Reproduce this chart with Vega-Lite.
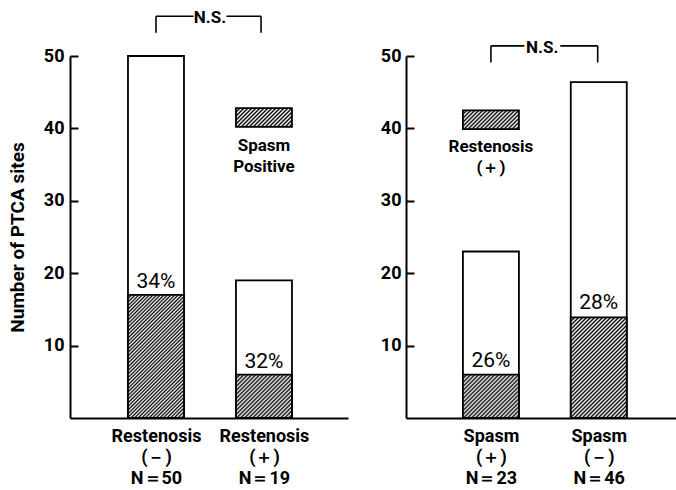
{
 "$schema": "https://vega.github.io/schema/vega-lite/v6.json",
 "padding": {"left": 8, "top": 9, "right": 0, "bottom": 0},
 "background": "#ffffff",
 "spacing": 32,
 "config": {
  "font": "Roboto, 'Liberation Sans', sans-serif",
  "view": {"stroke": null},
  "axis": {"domainColor": "#000", "domainWidth": 2, "tickColor": "#000", "tickWidth": 2, "labelColor": "#000", "titleColor": "#000", "grid": false, "labelFontWeight": "bold", "titleFontWeight": "bold"},
  "text": {"color": "#000"}
 },
 "hconcat": [
  {
   "width": 278, "height": 362,
   "data": {"values": [{"pos": 1, "total": 50, "spasm": 17, "pct": "34%"}, {"pos": 2, "total": 19, "spasm": 6, "pct": "32%"}]},
   "layer": [
    {"mark": {"type": "bar", "width": 56, "fill": "#fff", "stroke": "#000", "strokeWidth": 1.8},
     "encoding": {
      "x": {"field": "pos", "type": "quantitative", "scale": {"domain": [0.25, 2.732], "nice": false, "zero": false},
            "axis": {"title": null, "values": [1, 2], "ticks": false, "tickSize": 0, "labelPadding": 9, "labelFontSize": 18, "labelLineHeight": 21, "labelExpr": "datum.value == 1 ? ['Restenosis', '(－)', 'N＝50'] : ['Restenosis', '(＋)', 'N＝19']"}},
      "y": {"field": "total", "type": "quantitative", "scale": {"domain": [0, 50], "nice": false},
            "axis": {"title": "Number of PTCA sites", "values": [10, 20, 30, 40, 50], "tickSize": -8, "labelPadding": 14, "labelFontSize": 18, "titleFontSize": 19, "titlePadding": 16}}
     }},
    {"transform": [{"filter": "datum.pos == 1"}],
     "mark": {"type": "bar", "width": 56, "stroke": "#000", "strokeWidth": 1.8,
      "fill": {"gradient": "linear", "x1": 0, "y1": 0, "x2": 0.551, "y2": 1.2115, "stops": [{"offset":0,"color":"#000"},{"offset":0.01,"color":"#fff"},{"offset":0.02,"color":"#000"},{"offset":0.03,"color":"#fff"},{"offset":0.04,"color":"#000"},{"offset":0.05,"color":"#fff"},{"offset":0.06,"color":"#000"},{"offset":0.07,"color":"#fff"},{"offset":0.08,"color":"#000"},{"offset":0.09,"color":"#fff"},{"offset":0.1,"color":"#000"},{"offset":0.11,"color":"#fff"},{"offset":0.12,"color":"#000"},{"offset":0.13,"color":"#fff"},{"offset":0.14,"color":"#000"},{"offset":0.15,"color":"#fff"},{"offset":0.16,"color":"#000"},{"offset":0.17,"color":"#fff"},{"offset":0.18,"color":"#000"},{"offset":0.19,"color":"#fff"},{"offset":0.2,"color":"#000"},{"offset":0.21,"color":"#fff"},{"offset":0.22,"color":"#000"},{"offset":0.23,"color":"#fff"},{"offset":0.24,"color":"#000"},{"offset":0.25,"color":"#fff"},{"offset":0.26,"color":"#000"},{"offset":0.27,"color":"#fff"},{"offset":0.28,"color":"#000"},{"offset":0.29,"color":"#fff"},{"offset":0.3,"color":"#000"},{"offset":0.31,"color":"#fff"},{"offset":0.32,"color":"#000"},{"offset":0.33,"color":"#fff"},{"offset":0.34,"color":"#000"},{"offset":0.35,"color":"#fff"},{"offset":0.36,"color":"#000"},{"offset":0.37,"color":"#fff"},{"offset":0.38,"color":"#000"},{"offset":0.39,"color":"#fff"},{"offset":0.4,"color":"#000"},{"offset":0.41,"color":"#fff"},{"offset":0.42,"color":"#000"},{"offset":0.43,"color":"#fff"},{"offset":0.44,"color":"#000"},{"offset":0.45,"color":"#fff"},{"offset":0.46,"color":"#000"},{"offset":0.47,"color":"#fff"},{"offset":0.48,"color":"#000"},{"offset":0.49,"color":"#fff"},{"offset":0.5,"color":"#000"},{"offset":0.51,"color":"#fff"},{"offset":0.52,"color":"#000"},{"offset":0.53,"color":"#fff"},{"offset":0.54,"color":"#000"},{"offset":0.55,"color":"#fff"},{"offset":0.56,"color":"#000"},{"offset":0.57,"color":"#fff"},{"offset":0.58,"color":"#000"},{"offset":0.59,"color":"#fff"},{"offset":0.6,"color":"#000"},{"offset":0.61,"color":"#fff"},{"offset":0.62,"color":"#000"},{"offset":0.63,"color":"#fff"},{"offset":0.64,"color":"#000"},{"offset":0.65,"color":"#fff"},{"offset":0.66,"color":"#000"},{"offset":0.67,"color":"#fff"},{"offset":0.68,"color":"#000"},{"offset":0.69,"color":"#fff"},{"offset":0.7,"color":"#000"},{"offset":0.71,"color":"#fff"},{"offset":0.72,"color":"#000"},{"offset":0.73,"color":"#fff"},{"offset":0.74,"color":"#000"},{"offset":0.75,"color":"#fff"},{"offset":0.76,"color":"#000"},{"offset":0.77,"color":"#fff"},{"offset":0.78,"color":"#000"},{"offset":0.79,"color":"#fff"},{"offset":0.8,"color":"#000"},{"offset":0.81,"color":"#fff"},{"offset":0.82,"color":"#000"},{"offset":0.83,"color":"#fff"},{"offset":0.84,"color":"#000"},{"offset":0.85,"color":"#fff"},{"offset":0.86,"color":"#000"},{"offset":0.87,"color":"#fff"},{"offset":0.88,"color":"#000"},{"offset":0.89,"color":"#fff"},{"offset":0.9,"color":"#000"},{"offset":0.91,"color":"#fff"},{"offset":0.92,"color":"#000"},{"offset":0.93,"color":"#fff"},{"offset":0.94,"color":"#000"},{"offset":0.95,"color":"#fff"},{"offset":0.96,"color":"#000"},{"offset":0.97,"color":"#fff"},{"offset":0.98,"color":"#000"},{"offset":0.99,"color":"#fff"},{"offset":1,"color":"#000"}]}},
     "encoding": {"x": {"field": "pos", "type": "quantitative"}, "y": {"field": "spasm", "type": "quantitative"}}},
    {"transform": [{"filter": "datum.pos == 2"}],
     "mark": {"type": "bar", "width": 56, "stroke": "#000", "strokeWidth": 1.8,
      "fill": {"gradient": "linear", "x1": 0, "y1": 0, "x2": 1.1155, "y2": 0.8645, "stops": [{"offset":0,"color":"#000"},{"offset":0.02,"color":"#fff"},{"offset":0.04,"color":"#000"},{"offset":0.06,"color":"#fff"},{"offset":0.08,"color":"#000"},{"offset":0.1,"color":"#fff"},{"offset":0.12,"color":"#000"},{"offset":0.14,"color":"#fff"},{"offset":0.16,"color":"#000"},{"offset":0.18,"color":"#fff"},{"offset":0.2,"color":"#000"},{"offset":0.22,"color":"#fff"},{"offset":0.24,"color":"#000"},{"offset":0.26,"color":"#fff"},{"offset":0.28,"color":"#000"},{"offset":0.3,"color":"#fff"},{"offset":0.32,"color":"#000"},{"offset":0.34,"color":"#fff"},{"offset":0.36,"color":"#000"},{"offset":0.38,"color":"#fff"},{"offset":0.4,"color":"#000"},{"offset":0.42,"color":"#fff"},{"offset":0.44,"color":"#000"},{"offset":0.46,"color":"#fff"},{"offset":0.48,"color":"#000"},{"offset":0.5,"color":"#fff"},{"offset":0.52,"color":"#000"},{"offset":0.54,"color":"#fff"},{"offset":0.56,"color":"#000"},{"offset":0.58,"color":"#fff"},{"offset":0.6,"color":"#000"},{"offset":0.62,"color":"#fff"},{"offset":0.64,"color":"#000"},{"offset":0.66,"color":"#fff"},{"offset":0.68,"color":"#000"},{"offset":0.7,"color":"#fff"},{"offset":0.72,"color":"#000"},{"offset":0.74,"color":"#fff"},{"offset":0.76,"color":"#000"},{"offset":0.78,"color":"#fff"},{"offset":0.8,"color":"#000"},{"offset":0.82,"color":"#fff"},{"offset":0.84,"color":"#000"},{"offset":0.86,"color":"#fff"},{"offset":0.88,"color":"#000"},{"offset":0.9,"color":"#fff"},{"offset":0.92,"color":"#000"},{"offset":0.94,"color":"#fff"},{"offset":0.96,"color":"#000"},{"offset":0.98,"color":"#fff"},{"offset":1,"color":"#000"}]}},
     "encoding": {"x": {"field": "pos", "type": "quantitative"}, "y": {"field": "spasm", "type": "quantitative"}}},
    {"mark": {"type": "text", "baseline": "middle", "dy": -13, "fontSize": 21},
     "encoding": {"x": {"field": "pos", "type": "quantitative"}, "y": {"field": "spasm", "type": "quantitative"}, "text": {"field": "pct"}}},
    {"data": {"values": [{"lx": 2, "ly": 40.2, "ly2": 42.8}]},
     "mark": {"type": "bar", "width": 56, "stroke": "#000", "strokeWidth": 1.8,
      "fill": {"gradient": "linear", "x1": 0, "y1": 0, "x2": 1.284, "y2": 0.431, "stops": [{"offset":0,"color":"#000"},{"offset":0.025,"color":"#fff"},{"offset":0.05,"color":"#000"},{"offset":0.075,"color":"#fff"},{"offset":0.1,"color":"#000"},{"offset":0.125,"color":"#fff"},{"offset":0.15,"color":"#000"},{"offset":0.175,"color":"#fff"},{"offset":0.2,"color":"#000"},{"offset":0.225,"color":"#fff"},{"offset":0.25,"color":"#000"},{"offset":0.275,"color":"#fff"},{"offset":0.3,"color":"#000"},{"offset":0.325,"color":"#fff"},{"offset":0.35,"color":"#000"},{"offset":0.375,"color":"#fff"},{"offset":0.4,"color":"#000"},{"offset":0.425,"color":"#fff"},{"offset":0.45,"color":"#000"},{"offset":0.475,"color":"#fff"},{"offset":0.5,"color":"#000"},{"offset":0.525,"color":"#fff"},{"offset":0.55,"color":"#000"},{"offset":0.575,"color":"#fff"},{"offset":0.6,"color":"#000"},{"offset":0.625,"color":"#fff"},{"offset":0.65,"color":"#000"},{"offset":0.675,"color":"#fff"},{"offset":0.7,"color":"#000"},{"offset":0.725,"color":"#fff"},{"offset":0.75,"color":"#000"},{"offset":0.775,"color":"#fff"},{"offset":0.8,"color":"#000"},{"offset":0.825,"color":"#fff"},{"offset":0.85,"color":"#000"},{"offset":0.875,"color":"#fff"},{"offset":0.9,"color":"#000"},{"offset":0.925,"color":"#fff"},{"offset":0.95,"color":"#000"},{"offset":0.975,"color":"#fff"},{"offset":1,"color":"#000"}]}},
     "encoding": {"x": {"field": "lx", "type": "quantitative"}, "y": {"field": "ly", "type": "quantitative"}, "y2": {"field": "ly2"}}},
    {"data": {"values": [{"lx": 2, "ly": 38.7, "t": "Spasm|Positive"}]},
     "mark": {"type": "text", "baseline": "top", "lineBreak": "|", "lineHeight": 21, "fontSize": 17, "fontWeight": "bold"},
     "encoding": {"x": {"field": "lx", "type": "quantitative"}, "y": {"field": "ly", "type": "quantitative"}, "text": {"field": "t"}}},
    {"data": {"values": [{"bx": 1, "bx2": 1.348, "by": 55.5, "by2": 55.5}, {"bx": 1.652, "bx2": 1.973, "by": 55.5, "by2": 55.5}, {"bx": 1, "bx2": 1, "by": 55.5, "by2": 53.2}, {"bx": 1.973, "bx2": 1.973, "by": 55.5, "by2": 53.2}]},
     "mark": {"type": "rule", "color": "#000", "strokeWidth": 1.6},
     "encoding": {"x": {"field": "bx", "type": "quantitative"}, "x2": {"field": "bx2"}, "y": {"field": "by", "type": "quantitative"}, "y2": {"field": "by2"}}},
    {"data": {"values": [{"nx": 1.5, "ny": 55.5, "t": "N.S."}]},
     "mark": {"type": "text", "baseline": "middle", "dy": 2, "fontSize": 17, "fontWeight": "bold"},
     "encoding": {"x": {"field": "nx", "type": "quantitative"}, "y": {"field": "ny", "type": "quantitative"}, "text": {"field": "t"}}}
   ]
  },
  {
   "width": 271, "height": 362,
   "data": {"values": [{"pos": 1, "total": 23, "spasm": 6, "pct": "26%"}, {"pos": 2, "total": 46.4, "spasm": 13.9, "pct": "28%"}]},
   "layer": [
    {"mark": {"type": "bar", "width": 56, "fill": "#fff", "stroke": "#000", "strokeWidth": 1.8},
     "encoding": {
      "x": {"field": "pos", "type": "quantitative", "scale": {"domain": [0.259, 2.679], "nice": false, "zero": false},
            "axis": {"title": null, "values": [1, 2], "ticks": false, "tickSize": 0, "labelPadding": 9, "labelFontSize": 18, "labelLineHeight": 21, "labelExpr": "datum.value == 1 ? ['Spasm', '(＋)', 'N＝23'] : ['Spasm', '(－)', 'N＝46']"}},
      "y": {"field": "total", "type": "quantitative", "scale": {"domain": [0, 50], "nice": false},
            "axis": {"title": null, "values": [10, 20, 30, 40, 50], "tickSize": -8, "labelPadding": 13, "labelFontSize": 18}}
     }},
    {"transform": [{"filter": "datum.pos == 1"}],
     "mark": {"type": "bar", "width": 56, "stroke": "#000", "strokeWidth": 1.8,
      "fill": {"gradient": "linear", "x1": 0, "y1": 0, "x2": 1.1155, "y2": 0.8645, "stops": [{"offset":0,"color":"#000"},{"offset":0.02,"color":"#fff"},{"offset":0.04,"color":"#000"},{"offset":0.06,"color":"#fff"},{"offset":0.08,"color":"#000"},{"offset":0.1,"color":"#fff"},{"offset":0.12,"color":"#000"},{"offset":0.14,"color":"#fff"},{"offset":0.16,"color":"#000"},{"offset":0.18,"color":"#fff"},{"offset":0.2,"color":"#000"},{"offset":0.22,"color":"#fff"},{"offset":0.24,"color":"#000"},{"offset":0.26,"color":"#fff"},{"offset":0.28,"color":"#000"},{"offset":0.3,"color":"#fff"},{"offset":0.32,"color":"#000"},{"offset":0.34,"color":"#fff"},{"offset":0.36,"color":"#000"},{"offset":0.38,"color":"#fff"},{"offset":0.4,"color":"#000"},{"offset":0.42,"color":"#fff"},{"offset":0.44,"color":"#000"},{"offset":0.46,"color":"#fff"},{"offset":0.48,"color":"#000"},{"offset":0.5,"color":"#fff"},{"offset":0.52,"color":"#000"},{"offset":0.54,"color":"#fff"},{"offset":0.56,"color":"#000"},{"offset":0.58,"color":"#fff"},{"offset":0.6,"color":"#000"},{"offset":0.62,"color":"#fff"},{"offset":0.64,"color":"#000"},{"offset":0.66,"color":"#fff"},{"offset":0.68,"color":"#000"},{"offset":0.7,"color":"#fff"},{"offset":0.72,"color":"#000"},{"offset":0.74,"color":"#fff"},{"offset":0.76,"color":"#000"},{"offset":0.78,"color":"#fff"},{"offset":0.8,"color":"#000"},{"offset":0.82,"color":"#fff"},{"offset":0.84,"color":"#000"},{"offset":0.86,"color":"#fff"},{"offset":0.88,"color":"#000"},{"offset":0.9,"color":"#fff"},{"offset":0.92,"color":"#000"},{"offset":0.94,"color":"#fff"},{"offset":0.96,"color":"#000"},{"offset":0.98,"color":"#fff"},{"offset":1,"color":"#000"}]}},
     "encoding": {"x": {"field": "pos", "type": "quantitative"}, "y": {"field": "spasm", "type": "quantitative"}}},
    {"transform": [{"filter": "datum.pos == 2"}],
     "mark": {"type": "bar", "width": 56, "stroke": "#000", "strokeWidth": 1.8,
      "fill": {"gradient": "linear", "x1": 0, "y1": 0, "x2": 0.676, "y2": 1.2143, "stops": [{"offset":0,"color":"#000"},{"offset":0.0125,"color":"#fff"},{"offset":0.025,"color":"#000"},{"offset":0.0375,"color":"#fff"},{"offset":0.05,"color":"#000"},{"offset":0.0625,"color":"#fff"},{"offset":0.075,"color":"#000"},{"offset":0.0875,"color":"#fff"},{"offset":0.1,"color":"#000"},{"offset":0.1125,"color":"#fff"},{"offset":0.125,"color":"#000"},{"offset":0.1375,"color":"#fff"},{"offset":0.15,"color":"#000"},{"offset":0.1625,"color":"#fff"},{"offset":0.175,"color":"#000"},{"offset":0.1875,"color":"#fff"},{"offset":0.2,"color":"#000"},{"offset":0.2125,"color":"#fff"},{"offset":0.225,"color":"#000"},{"offset":0.2375,"color":"#fff"},{"offset":0.25,"color":"#000"},{"offset":0.2625,"color":"#fff"},{"offset":0.275,"color":"#000"},{"offset":0.2875,"color":"#fff"},{"offset":0.3,"color":"#000"},{"offset":0.3125,"color":"#fff"},{"offset":0.325,"color":"#000"},{"offset":0.3375,"color":"#fff"},{"offset":0.35,"color":"#000"},{"offset":0.3625,"color":"#fff"},{"offset":0.375,"color":"#000"},{"offset":0.3875,"color":"#fff"},{"offset":0.4,"color":"#000"},{"offset":0.4125,"color":"#fff"},{"offset":0.425,"color":"#000"},{"offset":0.4375,"color":"#fff"},{"offset":0.45,"color":"#000"},{"offset":0.4625,"color":"#fff"},{"offset":0.475,"color":"#000"},{"offset":0.4875,"color":"#fff"},{"offset":0.5,"color":"#000"},{"offset":0.5125,"color":"#fff"},{"offset":0.525,"color":"#000"},{"offset":0.5375,"color":"#fff"},{"offset":0.55,"color":"#000"},{"offset":0.5625,"color":"#fff"},{"offset":0.575,"color":"#000"},{"offset":0.5875,"color":"#fff"},{"offset":0.6,"color":"#000"},{"offset":0.6125,"color":"#fff"},{"offset":0.625,"color":"#000"},{"offset":0.6375,"color":"#fff"},{"offset":0.65,"color":"#000"},{"offset":0.6625,"color":"#fff"},{"offset":0.675,"color":"#000"},{"offset":0.6875,"color":"#fff"},{"offset":0.7,"color":"#000"},{"offset":0.7125,"color":"#fff"},{"offset":0.725,"color":"#000"},{"offset":0.7375,"color":"#fff"},{"offset":0.75,"color":"#000"},{"offset":0.7625,"color":"#fff"},{"offset":0.775,"color":"#000"},{"offset":0.7875,"color":"#fff"},{"offset":0.8,"color":"#000"},{"offset":0.8125,"color":"#fff"},{"offset":0.825,"color":"#000"},{"offset":0.8375,"color":"#fff"},{"offset":0.85,"color":"#000"},{"offset":0.8625,"color":"#fff"},{"offset":0.875,"color":"#000"},{"offset":0.8875,"color":"#fff"},{"offset":0.9,"color":"#000"},{"offset":0.9125,"color":"#fff"},{"offset":0.925,"color":"#000"},{"offset":0.9375,"color":"#fff"},{"offset":0.95,"color":"#000"},{"offset":0.9625,"color":"#fff"},{"offset":0.975,"color":"#000"},{"offset":0.9875,"color":"#fff"},{"offset":1,"color":"#000"}]}},
     "encoding": {"x": {"field": "pos", "type": "quantitative"}, "y": {"field": "spasm", "type": "quantitative"}}},
    {"mark": {"type": "text", "baseline": "middle", "dy": -14, "fontSize": 21},
     "encoding": {"x": {"field": "pos", "type": "quantitative"}, "y": {"field": "spasm", "type": "quantitative"}, "text": {"field": "pct"}}},
    {"data": {"values": [{"lx": 1, "ly": 39.9, "ly2": 42.5}]},
     "mark": {"type": "bar", "width": 56, "stroke": "#000", "strokeWidth": 1.8,
      "fill": {"gradient": "linear", "x1": 0, "y1": 0, "x2": 1.284, "y2": 0.431, "stops": [{"offset":0,"color":"#000"},{"offset":0.025,"color":"#fff"},{"offset":0.05,"color":"#000"},{"offset":0.075,"color":"#fff"},{"offset":0.1,"color":"#000"},{"offset":0.125,"color":"#fff"},{"offset":0.15,"color":"#000"},{"offset":0.175,"color":"#fff"},{"offset":0.2,"color":"#000"},{"offset":0.225,"color":"#fff"},{"offset":0.25,"color":"#000"},{"offset":0.275,"color":"#fff"},{"offset":0.3,"color":"#000"},{"offset":0.325,"color":"#fff"},{"offset":0.35,"color":"#000"},{"offset":0.375,"color":"#fff"},{"offset":0.4,"color":"#000"},{"offset":0.425,"color":"#fff"},{"offset":0.45,"color":"#000"},{"offset":0.475,"color":"#fff"},{"offset":0.5,"color":"#000"},{"offset":0.525,"color":"#fff"},{"offset":0.55,"color":"#000"},{"offset":0.575,"color":"#fff"},{"offset":0.6,"color":"#000"},{"offset":0.625,"color":"#fff"},{"offset":0.65,"color":"#000"},{"offset":0.675,"color":"#fff"},{"offset":0.7,"color":"#000"},{"offset":0.725,"color":"#fff"},{"offset":0.75,"color":"#000"},{"offset":0.775,"color":"#fff"},{"offset":0.8,"color":"#000"},{"offset":0.825,"color":"#fff"},{"offset":0.85,"color":"#000"},{"offset":0.875,"color":"#fff"},{"offset":0.9,"color":"#000"},{"offset":0.925,"color":"#fff"},{"offset":0.95,"color":"#000"},{"offset":0.975,"color":"#fff"},{"offset":1,"color":"#000"}]}},
     "encoding": {"x": {"field": "lx", "type": "quantitative"}, "y": {"field": "ly", "type": "quantitative"}, "y2": {"field": "ly2"}}},
    {"data": {"values": [{"lx": 1, "ly": 38.5, "t": "Restenosis|(＋)"}]},
     "mark": {"type": "text", "baseline": "top", "lineBreak": "|", "lineHeight": 21, "fontSize": 17, "fontWeight": "bold"},
     "encoding": {"x": {"field": "lx", "type": "quantitative"}, "y": {"field": "ly", "type": "quantitative"}, "text": {"field": "t"}}},
    {"data": {"values": [{"bx": 1, "bx2": 1.31, "by": 51.4, "by2": 51.4}, {"bx": 1.643, "bx2": 1.99, "by": 51.4, "by2": 51.4}, {"bx": 1, "bx2": 1, "by": 51.4, "by2": 49.1}, {"bx": 1.99, "bx2": 1.99, "by": 51.4, "by2": 49.1}]},
     "mark": {"type": "rule", "color": "#000", "strokeWidth": 1.6},
     "encoding": {"x": {"field": "bx", "type": "quantitative"}, "x2": {"field": "bx2"}, "y": {"field": "by", "type": "quantitative"}, "y2": {"field": "by2"}}},
    {"data": {"values": [{"nx": 1.476, "ny": 51.4, "t": "N.S."}]},
     "mark": {"type": "text", "baseline": "middle", "dy": 2, "fontSize": 17, "fontWeight": "bold"},
     "encoding": {"x": {"field": "nx", "type": "quantitative"}, "y": {"field": "ny", "type": "quantitative"}, "text": {"field": "t"}}}
   ]
  }
 ]
}
